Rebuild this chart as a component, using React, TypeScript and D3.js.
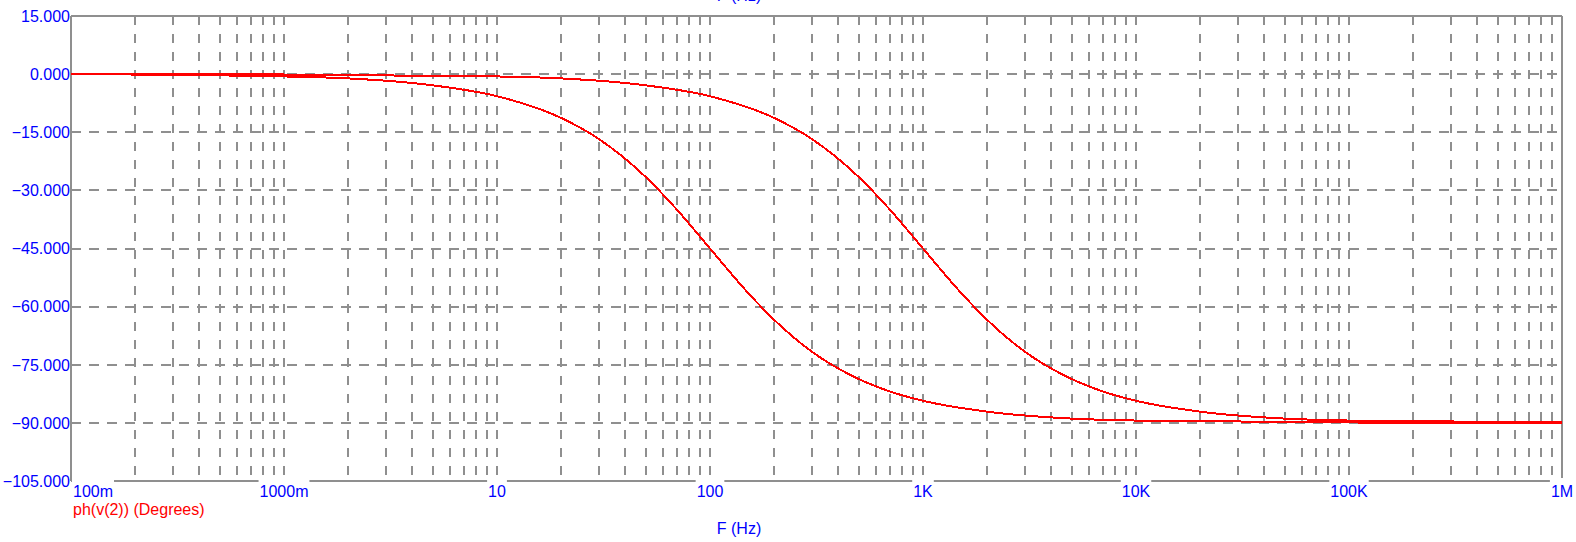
import React from 'react';
import * as d3 from 'd3';

// frequencies (Hz) and phase (deg)
const freqA = [0.1, 1, 2, 5, 10, 20, 30, 50, 70, 100, 150, 200, 300, 500, 700, 1000, 2000, 5000, 10000, 100000, 1000000];
const phaseA = [0, -0.6, -1.1, -2.9, -5.7, -11.3, -16.7, -26.6, -35.0, -45.0, -56.3, -63.4, -71.6, -78.7, -81.9, -84.3, -87.1, -88.9, -89.4, -89.9, -90];

const freqB = [0.1, 1, 10, 20, 50, 100, 200, 300, 500, 700, 1000, 1500, 2000, 3000, 5000, 7000, 10000, 20000, 50000, 100000, 1000000];
const phaseB = [0, -0.1, -0.6, -1.1, -2.9, -5.7, -11.3, -16.7, -26.6, -35.0, -45.0, -56.3, -63.4, -71.6, -78.7, -81.9, -84.3, -87.1, -88.9, -89.4, -89.9];

const xTickValues = [0.1, 1, 10, 100, 1000, 10000, 100000, 1000000];
const xTickLabels = ['100m', '1000m', '10', '100', '1K', '10K', '100K', '1M'];
const yTickValues = [15, 0, -15, -30, -45, -60, -75, -90, -105];

const legendLabel = 'ph(v(2)) (Degrees)';
const axisTitle = 'F (Hz)';

if (typeof document !== 'undefined') document.body.style.margin = '0';

const App = () => {
  const width = 1576;
  const height = 542;
  const left = 71, right = 1562, top = 16, bottom = 481;

  const x = d3.scaleLog().domain([0.1, 1e6]).range([left, right]);
  const y = d3.scaleLinear().domain([-105, 15]).range([bottom, top]);

  const gridX: number[] = [];
  for (let e = -1; e < 6; e++) {
    for (let m = 1; m <= 9; m++) {
      const v = m * Math.pow(10, e);
      if (v > 0.1) gridX.push(v);
    }
  }

  const line = d3.line<[number, number]>()
    .x(d => x(d[0]))
    .y(d => y(d[1]))
    .curve(d3.curveMonotoneX);

  const seriesA = freqA.map((f, i) => [f, phaseA[i]] as [number, number]);
  const seriesB = freqB.map((f, i) => [f, phaseB[i]] as [number, number]);

  const gridColor = '#8f8f8f';
  const font = 'Arial, "Liberation Sans", sans-serif';
  const fmt = d3.format('.3f');
  const charW = 8.9;

  return (
    <svg width={width} height={height} style={{ display: 'block', background: '#fff' }} fontFamily={font}>
      {/* grid */}
      <g stroke={gridColor} strokeWidth={2} shapeRendering="crispEdges">
        {gridX.map(v => (
          <line key={'v' + v} x1={Math.round(x(v))} x2={Math.round(x(v))} y1={top} y2={bottom} strokeDasharray="9 9" />
        ))}
        {yTickValues.slice(1, -1).map(v => (
          <line key={'h' + v} x1={left} x2={right} y1={Math.round(y(v))} y2={Math.round(y(v))} strokeDasharray="10 8" />
        ))}
        <line x1={left} x2={right} y1={top} y2={top} />
        <line x1={left} x2={left} y1={top} y2={bottom} />
        <line x1={right} x2={right} y1={top} y2={bottom} />
        <line x1={left} x2={right} y1={bottom} y2={bottom} />
      </g>

      {/* curves */}
      <g fill="none" stroke="#ff0000" strokeWidth={2} shapeRendering="crispEdges">
        <path d={line(seriesB) || ''} />
        <path d={line(seriesA) || ''} />
      </g>

      {/* y labels */}
      <g fill="#0000ff" fontSize={16} textAnchor="end">
        {yTickValues.map(v => (
          <text key={v} x={left - 1} y={y(v)} dy="0.36em">{fmt(v)}</text>
        ))}
      </g>

      {/* x labels with white backing */}
      <g fontSize={16} fill="#0000ff">
        {xTickValues.map((v, i) => {
          const label = xTickLabels[i];
          const w = label.replace(/[mKM]/g, '').length * charW + (label.includes('m') ? 13.3 : label.includes('K') ? 10.7 : label.includes('M') ? 13.3 : 0);
          const cx = x(v);
          const x0 = i === 0 ? cx + 2 : cx - w / 2;
          return (
            <g key={label}>
              <rect x={x0 - 1} y={478} width={w + 2} height={21} fill="#fff" />
              <text x={x0} y={497}>{label}</text>
            </g>
          );
        })}
      </g>

      <text x={73} y={515} fontSize={16} fill="#ff0000">{legendLabel}</text>
      <text x={739} y={534} fontSize={16} fill="#0000ff" textAnchor="middle">{axisTitle}</text>
      <text x={739} y={1} fontSize={16} fill="#0000ff" textAnchor="middle">{axisTitle}</text>
    </svg>
  );
};

export default App;
